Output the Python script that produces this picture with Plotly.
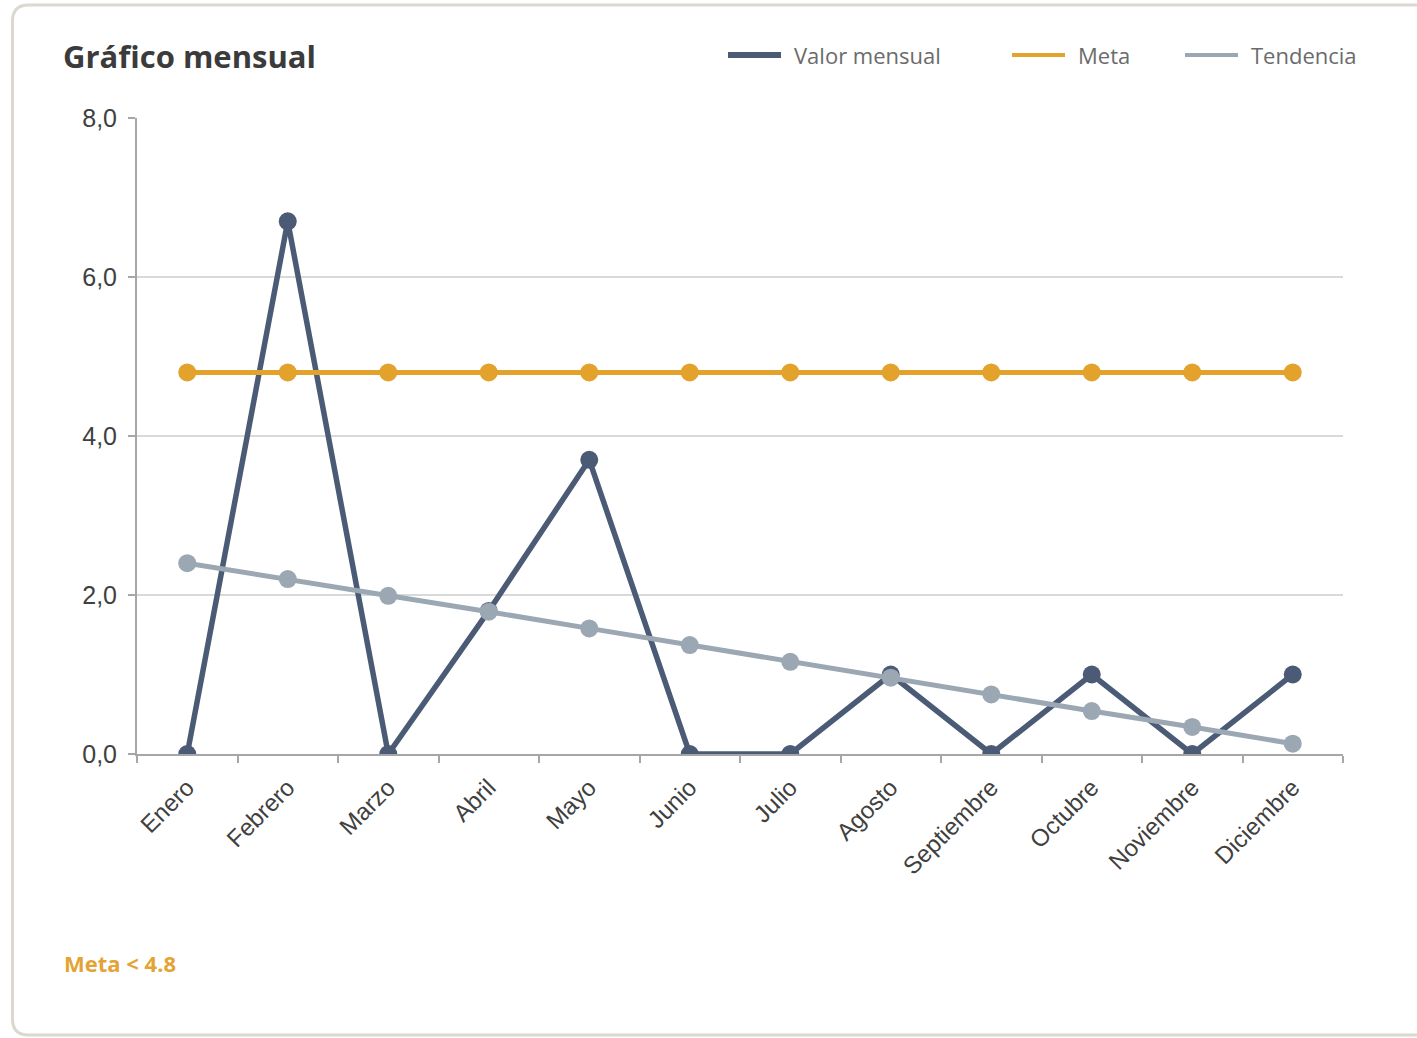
import plotly.graph_objects as go

meses = ["Enero", "Febrero", "Marzo", "Abril", "Mayo", "Junio", "Julio",
         "Agosto", "Septiembre", "Octubre", "Noviembre", "Diciembre"]
valor_mensual = [0.0, 6.7, 0.0, 1.8, 3.7, 0.0, 0.0, 1.0, 0.0, 1.0, 0.0, 1.0]
meta = [4.8] * 12
tendencia = [2.40, 2.20, 1.99, 1.79, 1.58, 1.37, 1.16, 0.96, 0.75, 0.54, 0.34, 0.13]
y_ticks = [0, 2, 4, 6, 8]

C_VALOR = "#4b5b75"
C_META = "#e2a22c"
C_TEND = "#9ba7b3"

W, H = 1417, 1038
L, R, T, B = 137, 1343, 118, 754
TICK_FONT = "Arial, Liberation Sans, sans-serif"


def px_x(p):
    return (p - L) / (R - L)


def px_y(p):
    return (B - p) / (B - T)


fig = go.Figure()

series = [
    ("Valor mensual", valor_mensual, C_VALOR, 5.5),
    ("Meta", meta, C_META, 5),
    ("Tendencia", tendencia, C_TEND, 5),
]
for name, vals, col, lw in series:
    fig.add_trace(go.Scatter(
        x=meses, y=vals, mode="lines+markers", name=name,
        line=dict(color=col, width=lw),
        marker=dict(color=col, size=18),
        showlegend=False))

# legend (line swatch + label), laid out like the original header
legend_items = [
    ("Valor mensual", C_VALOR, 6, 728, 781, 793),
    ("Meta", C_META, 4, 1012, 1065, 1077),
    ("Tendencia", C_TEND, 4, 1185, 1238, 1250),
]
for name, col, lw, lx0, lx1, tx in legend_items:
    fig.add_shape(type="line", xref="paper", yref="paper",
                  x0=px_x(lx0), x1=px_x(lx1), y0=px_y(55), y1=px_y(55),
                  line=dict(color=col, width=lw))
    fig.add_annotation(text=name, xref="paper", yref="paper",
                       x=px_x(tx - 1), y=px_y(55), xanchor="left",
                       yanchor="middle", showarrow=False,
                       font=dict(family="Open Sans", size=22, color="#6b6b6b"))

fig.update_layout(
    width=W, height=H,
    margin=dict(l=L, r=W - R, t=T, b=H - B, autoexpand=False),
    paper_bgcolor="white", plot_bgcolor="white",
    separators=",.",
    showlegend=False,
    xaxis=dict(
        type="category", range=[-0.5, 11.5],
        showline=True, linecolor="#a6a6a6", linewidth=2,
        ticks="outside", tickson="boundaries", ticklen=7, tickwidth=2,
        tickcolor="#a6a6a6", showgrid=False,
        tickangle=-45, ticklabelstandoff=8,
        tickfont=dict(family=TICK_FONT, size=24, color="#404040"),
    ),
    yaxis=dict(
        range=[0, 8], tickvals=y_ticks, tickformat=".1f",
        showline=True, linecolor="#a6a6a6", linewidth=2,
        ticks="outside", ticklen=7, tickwidth=2, tickcolor="#a6a6a6",
        ticklabelstandoff=6,
        showgrid=True, gridcolor="#d9d9d9", gridwidth=2,
        zeroline=False,
        tickfont=dict(family=TICK_FONT, size=25, color="#404040"),
    ),
    title=dict(
        text="<b>Gráfico mensual</b>", x=63 / W, xanchor="left",
        y=1 - 57 / H, yanchor="middle",
        font=dict(family="Open Sans", size=31, color="#3b3b3b"),
    ),
)

fig.add_annotation(
    text="<b>Meta &lt; 4.8</b>", xref="paper", yref="paper",
    x=px_x(62), y=px_y(963), xanchor="left", yanchor="middle",
    showarrow=False,
    font=dict(family="Open Sans", size=22, color="#e3a335"),
)

# card border (rounded, continuing past the right edge)
x0, y0, y1, rr = px_x(12.5), px_y(5), px_y(1035), 16
xr = px_x(1440)
kx, ky = rr / (R - L), rr / (B - T)
path = (f"M {xr},{y0} L {x0 + kx},{y0} Q {x0},{y0} {x0},{y0 - ky} "
        f"L {x0},{y1 + ky} Q {x0},{y1} {x0 + kx},{y1} L {xr},{y1}")
fig.add_shape(type="path", path=path, xref="paper", yref="paper",
              line=dict(color="#dcd8d0", width=3), layer="below")

fig.write_html("out.html", config={"displayModeBar": False},
               post_script="document.body.style.margin='0px';")
